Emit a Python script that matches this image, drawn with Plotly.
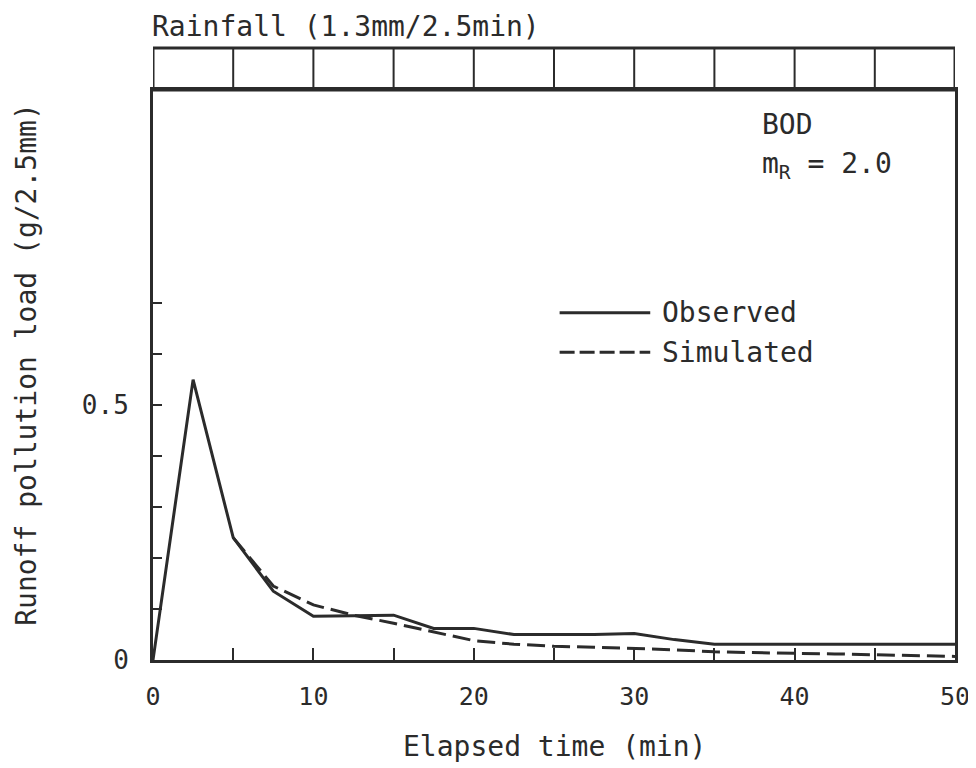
import plotly.graph_objects as go

# observed / simulated runoff pollution load (BOD), every 2.5 min
obs_time = [0, 2.5, 5, 7.5, 10, 12.5, 15, 17.5, 20, 22.5, 25, 27.5, 30, 32.5,
            35, 37.5, 40, 42.5, 45, 47.5, 50]
obs_load = [0, 0.55, 0.24, 0.135, 0.086, 0.087, 0.088, 0.062, 0.062, 0.05, 0.05,
            0.05, 0.052, 0.04, 0.031, 0.031, 0.031, 0.031, 0.031, 0.031, 0.031]

sim_time = [5, 7.5, 10, 12.5, 15, 17.5, 20, 22.5, 25, 27.5, 30, 32.5, 35,
            37.5, 40, 42.5, 45, 47.5, 50]
sim_load = [0.24, 0.145, 0.108, 0.088, 0.072, 0.055, 0.038, 0.031, 0.027, 0.025,
            0.023, 0.02, 0.016, 0.014, 0.013, 0.012, 0.01, 0.008, 0.007]

rain_steps = [0, 5, 10, 15, 20, 25, 30, 35, 40, 45, 50]

x_tickvals = [0, 5, 10, 15, 20, 25, 30, 35, 40, 45, 50]
x_ticktext = ["0", "", "10", "", "20", "", "30", "", "40", "", "50"]
y_tickvals = [0, 0.1, 0.2, 0.3, 0.4, 0.5, 0.6, 0.7]
y_ticktext = ["0", "", "", "", "", "0.5", "", ""]

INK = "#2b2b2b"
FONT = "DejaVu Sans Mono"

fig = go.Figure()
fig.add_trace(go.Scatter(x=obs_time, y=obs_load, mode="lines", name="Observed",
                         line=dict(color=INK, width=3)))
fig.add_trace(go.Scatter(x=sim_time, y=sim_load, mode="lines", name="Simulated",
                         line=dict(color=INK, width=3, dash="18px,7px")))

# rainfall bar above the plot
box_top = 1 + 42 / 570
fig.add_shape(type="rect", xref="x", yref="paper", x0=0, x1=50, y0=1, y1=box_top,
              line=dict(color=INK, width=3))
for t in rain_steps[1:-1]:
    fig.add_shape(type="line", xref="x", yref="paper", x0=t, x1=t, y0=1, y1=box_top,
                  line=dict(color=INK, width=2))

# hand-drawn legend
fig.add_shape(type="line", xref="paper", yref="paper", x0=0.507, x1=0.620,
              y0=0.609, y1=0.609, line=dict(color=INK, width=3))
fig.add_shape(type="line", xref="paper", yref="paper", x0=0.507, x1=0.620,
              y0=0.540, y1=0.540, line=dict(color=INK, width=3, dash="15px,5px"))

notes = [
    dict(text="Observed", x=0.632, y=0.609, xanchor="left", yanchor="middle"),
    dict(text="Simulated", x=0.632, y=0.540, xanchor="left", yanchor="middle"),
    dict(text="BOD", x=0.757, y=0.939, xanchor="left", yanchor="middle"),
    dict(text="m<sub>R</sub> = 2.0", x=0.757, y=0.868, xanchor="left", yanchor="middle"),
    dict(text="Rainfall (1.3mm/2.5min)", x=-0.004, y=1.112, xanchor="left", yanchor="middle"),
    dict(text="Elapsed time (min)", x=0.5, y=-0.152, xanchor="center", yanchor="middle"),
    dict(text="Runoff pollution load (g/2.5mm)", x=-0.157, y=0.518, textangle=-90,
         xanchor="center", yanchor="middle"),
]
for n in notes:
    fig.add_annotation(xref="paper", yref="paper", showarrow=False,
                       font=dict(family=FONT, size=28, color=INK), **n)

fig.update_xaxes(range=[0, 50], tickvals=x_tickvals, ticktext=x_ticktext,
                 ticks="inside", ticklen=12, tickwidth=2, tickcolor=INK,
                 showline=True, linecolor=INK, linewidth=3, mirror=True,
                 showgrid=False, zeroline=False, ticklabelstandoff=12,
                 ticklabeloverflow="allow", automargin=False,
                 tickfont=dict(family=FONT, size=25, color=INK))
fig.update_yaxes(range=[0, 1.118], tickvals=y_tickvals, ticktext=y_ticktext,
                 ticks="inside", ticklen=9, tickwidth=2, tickcolor=INK,
                 showline=True, linecolor=INK, linewidth=3, mirror=True,
                 showgrid=False, zeroline=False, ticklabelstandoff=16,
                 automargin=False,
                 tickfont=dict(family=FONT, size=26, color=INK))

# page body adds an 8px offset at top/left, so the figure is 8px smaller than the window
fig.update_layout(width=968, height=760, showlegend=False,
                  margin=dict(l=145, r=21, t=82, b=108),
                  plot_bgcolor="white", paper_bgcolor="white")

fig.write_html("out.html")
